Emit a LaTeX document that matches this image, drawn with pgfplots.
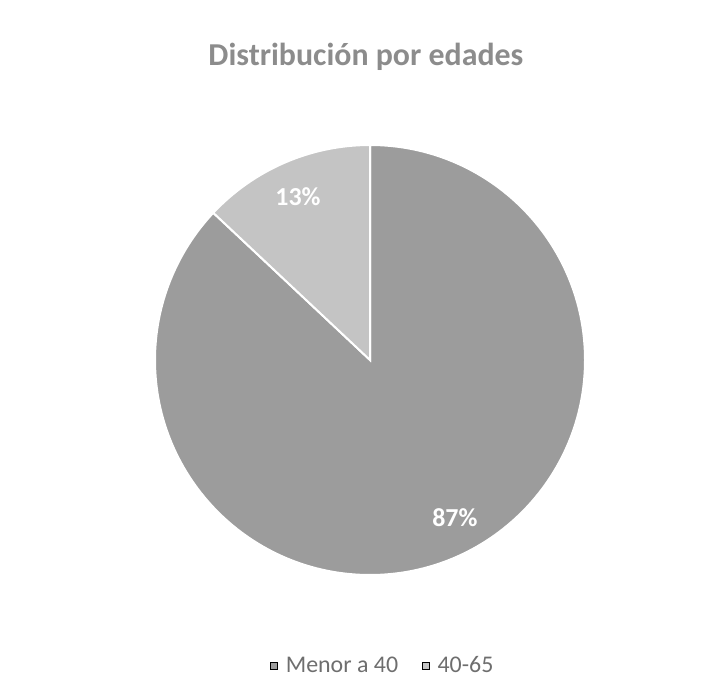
\documentclass[border=0pt]{standalone}
\usepackage{pgfplots}
\usepackage{pgfplotstable}
\pgfplotsset{compat=1.18}
\usepackage{fontspec}
\setmainfont{Carlito}

\definecolor{darkslice}{HTML}{9C9C9C}
\definecolor{lightslice}{HTML}{C4C4C4}
\definecolor{titlegray}{HTML}{8C8C8C}
\definecolor{legendgray}{HTML}{6E6E6E}

% share of each age group, in percent
\pgfplotstableread{
label value
{Menor a 40} 87
{40-65} 13
}\agedata

\begin{document}
\begin{tikzpicture}
\path (0,0) rectangle (720bp,700bp);
\pgfplotstablegetelem{0}{value}\of\agedata
\pgfmathsetmacro\angA{90-3.6*\pgfplotsretval}
\pgfplotstablegetelem{1}{value}\of\agedata
\pgfmathsetmacro\angB{\angA-3.6*\pgfplotsretval}
\begin{axis}[
	at={(370bp,340bp)}, anchor=center,
	scale only axis, width=430bp, height=430bp,
	xmin=-1, xmax=1, ymin=-1, ymax=1,
	hide axis, clip=false,
	legend style={
		at={(0.53,-0.21)}, anchor=center,
		draw=none, fill=none,
		legend columns=2,
		font=\fontsize{24}{28}\selectfont\color{legendgray},
		/tikz/every odd column/.append style={column sep=6bp},
		/tikz/every even column/.append style={column sep=22bp},
	},
	legend image code/.code={
		\fill[#1] (0bp,-3.5bp) rectangle (7bp,3.5bp);
	},
]
	\fill[darkslice, draw=white, line width=2bp]
		(axis cs:0,0) -- (axis cs:0,1)
		arc[start angle=90, end angle=\angA, radius=215bp] -- cycle;
	\fill[lightslice, draw=white, line width=2bp]
		(axis cs:0,0) -- (axis cs:{cos(\angA)},{sin(\angA)})
		arc[start angle=\angA, end angle=\angB, radius=215bp] -- cycle;
	\addlegendimage{fill=darkslice}
	\addlegendentry{Menor a 40}
	\addlegendimage{fill=lightslice}
	\addlegendentry{40-65}
	\node[white, font=\bfseries\fontsize{26}{30}\selectfont]
		at (axis cs:0.395,-0.735) {87\%};
	\node[white, font=\bfseries\fontsize{26}{30}\selectfont]
		at (axis cs:-0.335,0.758) {13\%};
	\node[titlegray, font=\bfseries\fontsize{32}{38}\selectfont]
		at (axis cs:-0.019,1.409) {Distribución por edades};
\end{axis}
\end{tikzpicture}
\end{document}
